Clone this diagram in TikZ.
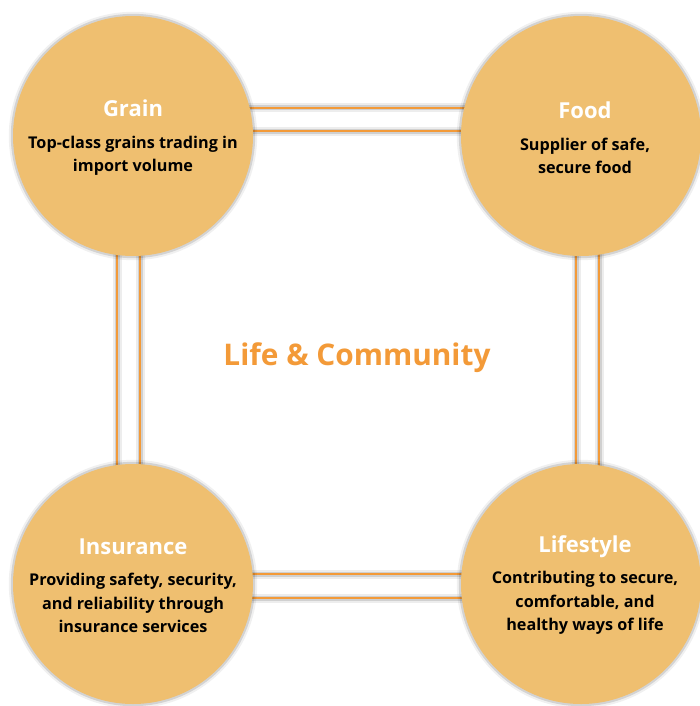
\documentclass[tikz,border=0pt]{standalone}
\usepackage{fontspec}
\setmainfont{Open Sans}
\usepackage{tikz}
\usetikzlibrary{positioning, calc, shadows, backgrounds}
\definecolor{hubfill}{RGB}{239,191,112}
\definecolor{linkorange}{RGB}{243,154,56}
\tikzset{
  hub/.style={
    circle, fill=hubfill, minimum size=240pt, inner sep=0pt,
    general shadow={shadow scale=1.035, fill=black, opacity=0.06},
    general shadow={shadow scale=1.018, fill=black, opacity=0.12}
  },
  head/.style={font=\fontsize{22}{26}\selectfont\bfseries, text=white, inner sep=0pt, anchor=base},
  body/.style={font=\fontsize{16.2}{23.5}\selectfont\bfseries, align=center, inner sep=0pt},
  link/.style={
    draw=linkorange, line width=2pt,
    preaction={draw=black, opacity=0.07, line width=9pt},
    preaction={draw=black, opacity=0.12, line width=5pt}
  },
}

\begin{document}
\begin{tikzpicture}[x=1pt, y=-1pt]
  \useasboundingbox (0,0) rectangle (699,706);

  % Hubs
  \node[hub] (grain) at (133,136) {};
  \node[hub] (food) at (581,136) {};
  \node[hub] (insurance) at (133,584) {};
  \node[hub] (lifestyle) at (581,584) {};

  % Double links
  \begin{scope}[on background layer]
    \foreach \s in {28,5} {
      \draw[link] ([yshift=\s pt]grain.center) -- ([yshift=\s pt]food.center);
    }
    \foreach \s in {10,-14} {
      \draw[link] ([yshift=\s pt]insurance.center) -- ([yshift=\s pt]lifestyle.center);
    }
    \foreach \s in {-16,7} {
      \draw[link] ([xshift=\s pt]grain.center) -- ([xshift=\s pt]insurance.center);
    }
    \foreach \s in {-5,18} {
      \draw[link] ([xshift=\s pt]food.center) -- ([xshift=\s pt]lifestyle.center);
    }
  \end{scope}

  % Grain
  \node[body] (grainbody) at ([yshift=-20pt]grain.center) {Top-class grains trading in\\import volume};
  \node[head] (grainhead) at ([yshift=19pt]grainbody.north) {Grain};

  % Food
  \node[body] (foodbody) at (585,156) {Supplier of safe,\\secure food};
  \node[head] (foodhead) at ([yshift=19pt]foodbody.north) {Food};

  % Insurance
  \node[body] (insurancebody) at ([yshift=-19pt]insurance.center) {Providing safety, security,\\and reliability through\\insurance services};
  \node[head] (insurancehead) at ([yshift=19pt]insurancebody.north) {Insurance};

  % Lifestyle
  \node[body] (lifestylebody) at (585,603) {Contributing to secure,\\comfortable, and\\healthy ways of life};
  \node[head] (lifestylehead) at ([yshift=19pt]lifestylebody.north) {Lifestyle};

  % Centre
  \node[font=\fontsize{29.8}{34}\selectfont\bfseries, text=linkorange] (centre) at (357,358) {Life \& Community};
\end{tikzpicture}
\end{document}
